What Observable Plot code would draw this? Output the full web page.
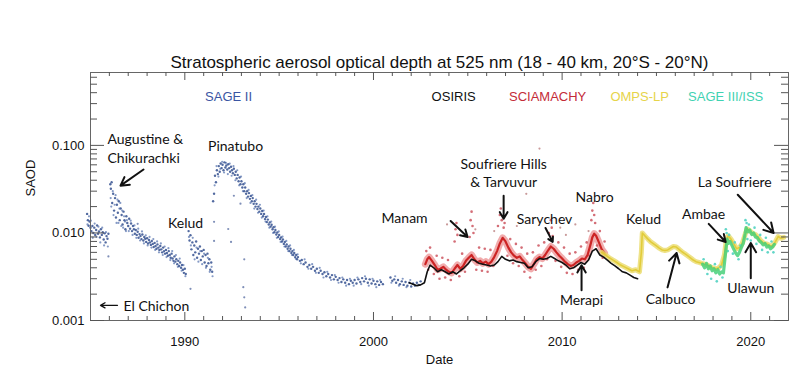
<!DOCTYPE html>
<html><head><meta charset="utf-8">
<script src="https://cdn.jsdelivr.net/npm/d3@7"></script>
<script src="https://cdn.jsdelivr.net/npm/@observablehq/plot@0.6"></script>
<style>body{margin:0;background:#fff}</style>
</head><body><div id="chart"></div>
<script>
// ---- data: [decimal year, stratospheric AOD at 525 nm] ----
const sage2 = [
[1984.82,0.0165],[1984.86,0.0140],[1984.90,0.0121],[1984.95,0.0135],[1985.00,0.0115],[1985.05,0.0105],[1985.10,0.0120],[1985.15,0.0100],[1985.20,0.0115],[1985.25,0.0095],[1985.30,0.0108],[1985.35,0.0122],[1985.40,0.0098],[1985.45,0.0104],[1985.50,0.0089],[1985.55,0.0110],[1985.60,0.0095],[1985.65,0.0102],[1985.70,0.0084],[1985.75,0.0099],[1985.80,0.0078],[1985.85,0.0092],[1985.90,0.0086],[1985.95,0.0098],
[1986.05,0.036],[1986.08,0.032],[1986.12,0.038],[1986.15,0.022],[1986.20,0.028],[1986.25,0.018],[1986.30,0.025],[1986.35,0.015],[1986.40,0.021],[1986.45,0.017],[1986.50,0.023],[1986.55,0.014],[1986.60,0.019],[1986.65,0.016],[1986.70,0.0125],[1986.75,0.0175],[1986.80,0.014],[1986.85,0.011],[1986.90,0.0155],[1986.95,0.013],[1987.00,0.012],[1987.05,0.0145],[1987.10,0.0112],[1987.15,0.0128],[1987.20,0.0105],[1987.25,0.012],[1987.30,0.011],[1987.35,0.0098],[1987.40,0.0108],[1987.45,0.0095],[1987.50,0.0103],[1987.55,0.0088],[1987.60,0.0097],[1987.65,0.0092],[1987.70,0.0085],[1987.75,0.0096],[1987.80,0.0082],[1987.85,0.0090],[1987.90,0.0086],[1987.95,0.0079],[1988.00,0.0087],[1988.05,0.0076],[1988.10,0.0083],[1988.15,0.0078],[1988.20,0.0073],[1988.25,0.0081],[1988.30,0.0075],[1988.35,0.0069],[1988.40,0.0077],[1988.45,0.0071],[1988.50,0.0066],[1988.55,0.0074],[1988.60,0.0068],[1988.65,0.0064],[1988.70,0.0071],[1988.75,0.0065],[1988.80,0.0060],[1988.85,0.0068],[1988.90,0.0062],[1988.95,0.0058],[1989.00,0.0064],[1989.05,0.0059],[1989.10,0.0055],[1989.15,0.0062],[1989.20,0.0056],[1989.25,0.0052],[1989.30,0.0058],[1989.35,0.0051],[1989.40,0.0048],[1989.45,0.0054],[1989.50,0.0047],[1989.55,0.0050],[1989.60,0.0044],[1989.65,0.0048],[1989.70,0.0042],[1989.75,0.0046],[1989.80,0.0040],[1989.85,0.0043],[1989.90,0.0038],[1989.95,0.0035],[1990.00,0.0039],[1990.05,0.0034],
[1990.20,0.0105],[1990.25,0.0082],[1990.30,0.0094],[1990.35,0.0065],[1990.40,0.0078],[1990.45,0.0056],[1990.50,0.0072],[1990.55,0.0060],[1990.60,0.0080],[1990.65,0.0052],[1990.70,0.0066],[1990.75,0.0058],[1990.80,0.0070],[1990.85,0.0049],[1990.90,0.0062],[1990.95,0.0054],[1991.00,0.0064],[1991.05,0.0046],[1991.10,0.0056],[1991.15,0.0042],[1991.20,0.0058],[1991.25,0.0045],[1991.30,0.0050],[1991.35,0.0038],[1991.40,0.0046],[1991.45,0.0036],
[1991.50,0.023],[1991.55,0.028],[1991.60,0.045],[1991.65,0.038],[1991.70,0.052],[1991.75,0.047],[1991.80,0.058],[1991.85,0.050],[1991.90,0.062],[1991.95,0.055],[1992.00,0.060],[1992.05,0.052],[1992.10,0.064],[1992.15,0.056],[1992.20,0.059],[1992.25,0.053],[1992.30,0.061],[1992.35,0.055],[1992.40,0.050],[1992.45,0.057],[1992.50,0.052],[1992.55,0.048],[1992.60,0.054],[1992.65,0.046],[1992.70,0.050],[1992.75,0.042],[1992.80,0.046],[1992.85,0.039],[1992.90,0.043],[1992.95,0.036],[1993.00,0.039],[1993.05,0.033],[1993.10,0.036],[1993.15,0.030],[1993.20,0.033],[1993.25,0.028],[1993.30,0.030],[1993.35,0.026],[1993.40,0.0285],[1993.45,0.0245],[1993.50,0.0265],[1993.55,0.023],[1993.60,0.025],[1993.65,0.0215],[1993.70,0.023],[1993.75,0.020],[1993.80,0.0215],[1993.85,0.0188],[1993.90,0.020],[1993.95,0.0175],[1994.00,0.019],[1994.05,0.0165],[1994.10,0.0178],[1994.15,0.0155],[1994.20,0.0165],[1994.25,0.0144],[1994.30,0.0152],[1994.35,0.0133],[1994.40,0.0142],[1994.45,0.0125],[1994.50,0.0132],[1994.55,0.0118],[1994.60,0.0124],[1994.65,0.0110],[1994.70,0.0116],[1994.75,0.0102],[1994.80,0.0108],[1994.85,0.0096],[1994.90,0.0101],[1994.95,0.0090],[1995.00,0.0095],[1995.05,0.0085],[1995.10,0.0089],[1995.15,0.0080],[1995.20,0.0084],[1995.25,0.0075],[1995.30,0.0079],[1995.35,0.0070],[1995.40,0.0074],[1995.45,0.0066],[1995.50,0.0070],[1995.55,0.0062],[1995.60,0.0066],[1995.65,0.0059],[1995.70,0.0062],[1995.75,0.0056],[1995.80,0.0059],[1995.85,0.0053],[1995.90,0.0056],[1995.95,0.0050],[1996.00,0.0053],[1996.10,0.0048],[1996.20,0.0049],[1996.30,0.0044],[1996.40,0.0046],[1996.50,0.0041],[1996.60,0.0043],[1996.70,0.0039],[1996.80,0.0041],[1996.90,0.0037],[1997.00,0.0039],[1997.10,0.0035],[1997.20,0.0037],[1997.30,0.0034],[1997.40,0.00355],[1997.50,0.0032],[1997.60,0.0034],[1997.70,0.0031],[1997.80,0.0033],[1997.90,0.00295],[1998.00,0.00315],[1998.10,0.0029],[1998.20,0.00305],[1998.30,0.00275],[1998.40,0.00295],[1998.50,0.0027],[1998.60,0.0029],[1998.70,0.0026],[1998.80,0.00285],[1998.90,0.0027],[1999.00,0.0029],[1999.10,0.00265],[1999.20,0.00295],[1999.30,0.00275],[1999.40,0.00305],[1999.50,0.0028],[1999.60,0.0030],[1999.70,0.0027],[1999.80,0.00295],[1999.90,0.00265],[2000.00,0.00285],[2000.10,0.0026],[2000.20,0.0028],[2000.30,0.00255],[2000.40,0.00275],[2000.50,0.0026],
[2000.90,0.0031],[2001.00,0.00285],[2001.10,0.00295],[2001.20,0.0027],[2001.30,0.0029],[2001.40,0.0026],[2001.50,0.0028],[2001.60,0.00255],[2001.70,0.00275],[2001.80,0.0025],[2001.90,0.0027],[2002.00,0.00245],[2002.10,0.00265],[2002.20,0.0025],[2002.30,0.0027],[2002.40,0.00255],[2002.50,0.0028]
];
const sage2Spread = [
[1984.84,0.0125],[1984.92,0.0155],[1985.02,0.0138],[1985.12,0.0088],[1985.22,0.0128],[1985.32,0.0090],[1985.42,0.0118],[1985.52,0.0078],[1985.62,0.0115],[1985.72,0.0072],[1985.82,0.0102],[1985.92,0.0070],
[1986.07,0.025],[1986.10,0.020],[1986.18,0.030],[1986.22,0.016],[1986.28,0.021],[1986.33,0.027],[1986.38,0.013],[1986.43,0.024],[1986.48,0.013],[1986.53,0.019],[1986.58,0.022],[1986.63,0.012],[1986.68,0.018],[1986.73,0.0115],[1986.78,0.0155],[1986.83,0.0135],[1986.88,0.0105],[1986.93,0.014],[1987.03,0.0105],[1987.13,0.0138],[1987.23,0.0095],[1987.33,0.0122],[1987.43,0.0088],[1987.53,0.0112],[1987.63,0.0082],[1987.73,0.0104],[1987.83,0.0076],[1987.93,0.0094],[1988.03,0.0072],[1988.13,0.0090],[1988.23,0.0068],[1988.33,0.0085],[1988.43,0.0064],[1988.53,0.0080],[1988.63,0.0060],[1988.73,0.0076],[1988.83,0.0056],[1988.93,0.0070],[1989.03,0.0053],[1989.13,0.0067],[1989.23,0.0049],[1989.33,0.0062],[1989.43,0.0045],[1989.53,0.0056],[1989.63,0.0041],[1989.73,0.0051],[1989.83,0.0037],[1989.93,0.0043],[1990.03,0.0032],
[1990.22,0.0090],[1990.32,0.0072],[1990.42,0.0088],[1990.52,0.0050],[1990.62,0.0068],[1990.72,0.0047],[1990.82,0.0062],[1990.92,0.0044],[1991.02,0.0058],[1991.12,0.0040],[1991.22,0.0052],[1991.32,0.0036],[1991.42,0.0041],[1991.47,0.0032],
[1991.58,0.035],[1991.68,0.058],[1991.78,0.044],[1991.88,0.054],[1991.98,0.065],[1992.08,0.049],[1992.18,0.063],[1992.28,0.047],[1992.38,0.062],[1992.48,0.045],[1992.58,0.058],[1992.68,0.040],[1992.78,0.052],[1992.88,0.035],[1992.98,0.044],[1993.08,0.030],[1993.18,0.037],[1993.28,0.025],[1993.38,0.031],[1993.48,0.022],[1993.58,0.027],[1993.68,0.019],[1993.78,0.024],[1993.88,0.017],[1993.98,0.021],[1994.08,0.0150],[1994.18,0.0180],[1994.28,0.0135],[1994.38,0.0155],[1994.48,0.0115],[1994.58,0.0135],[1994.68,0.0100],[1994.78,0.0118],[1994.88,0.0088],[1994.98,0.0104],[1995.08,0.0079],[1995.18,0.0091],[1995.28,0.0070],[1995.38,0.0081],[1995.48,0.0062],[1995.58,0.0072],[1995.68,0.0056],[1995.78,0.0064],[1995.88,0.0051],[1995.98,0.0057],[1996.15,0.0045],[1996.35,0.0050],[1996.55,0.0039],[1996.75,0.0044],[1996.95,0.0035],[1997.15,0.0040],[1997.35,0.0031],[1997.55,0.0036],[1997.75,0.0029],[1997.95,0.0033],[1998.15,0.0027],[1998.35,0.0031],[1998.55,0.0025],[1998.75,0.0030],[1998.95,0.0025],[1999.15,0.0031],[1999.35,0.0026],[1999.55,0.0032],[1999.75,0.0025],[1999.95,0.0030],[2000.15,0.0024],[2000.35,0.0029],[2000.95,0.0027],[2001.15,0.0032],[2001.35,0.0025],[2001.55,0.0030],[2001.75,0.0024],[2001.95,0.0029]
];
const sage2Sparse = [
[1985.95,0.0054],[1987.50,0.0127],[1990.30,0.0023],[1991.55,0.0134],[1991.55,0.0081],[1992.30,0.0111],[1992.45,0.0079],[1992.60,0.0266],[1992.95,0.0216],[1993.15,0.0050],[1993.10,0.0024],[1993.15,0.00184],[1993.20,0.00141]
];
const osiris = [
[2001.9,0.0027],[2002.1,0.0026],[2002.3,0.0025],[2002.5,0.00255],[2002.7,0.0027],[2002.85,0.0036],[2003.0,0.0043],[2003.2,0.0040],[2003.4,0.0036],[2003.6,0.0038],[2003.8,0.0036],[2004.0,0.0034],[2004.2,0.0036],[2004.4,0.0034],[2004.6,0.0037],[2004.8,0.0040],[2005.0,0.0044],[2005.2,0.0050],[2005.4,0.0048],[2005.6,0.0045],[2005.8,0.0044],[2006.0,0.0043],[2006.2,0.0042],[2006.4,0.0043],[2006.6,0.0047],[2006.8,0.0054],[2007.0,0.0050],[2007.2,0.0048],[2007.4,0.0049],[2007.6,0.0047],[2007.8,0.0046],[2008.0,0.0045],[2008.2,0.0040],[2008.4,0.0041],[2008.6,0.0047],[2008.8,0.0051],[2009.0,0.0050],[2009.2,0.0051],[2009.4,0.0054],[2009.6,0.0051],[2009.8,0.0048],[2010.0,0.0046],[2010.2,0.0043],[2010.4,0.0039],[2010.6,0.0040],[2010.8,0.0043],[2011.0,0.0046],[2011.2,0.0044],[2011.4,0.0049],[2011.6,0.0062],[2011.8,0.0066],[2012.0,0.0056],[2012.2,0.0053],[2012.4,0.0049],[2012.6,0.0045],[2012.8,0.0042],[2013.0,0.0039],[2013.2,0.0036],[2013.4,0.0035],[2013.6,0.0033],[2013.8,0.0031],[2014.0,0.0030]
];
const sciamachy = [
[2002.75,0.0044],[2002.85,0.0050],[2002.95,0.0053],[2003.1,0.0048],[2003.25,0.0043],[2003.4,0.0038],[2003.55,0.0039],[2003.7,0.0041],[2003.85,0.0038],[2004.0,0.0036],[2004.15,0.0035],[2004.3,0.0039],[2004.45,0.0043],[2004.6,0.0039],[2004.75,0.0042],[2004.9,0.0048],[2005.05,0.0052],[2005.2,0.0056],[2005.35,0.0050],[2005.5,0.0046],[2005.65,0.0048],[2005.8,0.0045],[2005.95,0.0047],[2006.1,0.0044],[2006.25,0.0047],[2006.4,0.0053],[2006.55,0.0062],[2006.7,0.0076],[2006.85,0.0088],[2007.0,0.0080],[2007.15,0.0068],[2007.3,0.0060],[2007.45,0.0055],[2007.6,0.0052],[2007.75,0.0054],[2007.9,0.0049],[2008.05,0.0045],[2008.2,0.0041],[2008.35,0.0039],[2008.5,0.0044],[2008.65,0.0050],[2008.8,0.0053],[2008.95,0.0051],[2009.1,0.0056],[2009.25,0.0063],[2009.4,0.0070],[2009.55,0.0066],[2009.7,0.0060],[2009.85,0.0055],[2010.0,0.0051],[2010.15,0.0047],[2010.3,0.0044],[2010.45,0.0042],[2010.6,0.0043],[2010.75,0.0046],[2010.9,0.0048],[2011.05,0.0051],[2011.2,0.0050],[2011.35,0.0056],[2011.5,0.0073],[2011.6,0.0089],[2011.7,0.0098],[2011.8,0.0093],[2011.95,0.0078],[2012.1,0.0065],[2012.25,0.0059]
];
const sciamachyScatter = [
[2002.8,0.0062],[2002.9,0.0038],[2003.0,0.0068],[2003.2,0.0034],[2003.35,0.0055],[2003.5,0.0030],[2003.65,0.0052],[2003.8,0.0031],[2003.95,0.0049],[2004.1,0.0029],[2004.3,0.0080],[2004.35,0.0110],[2004.4,0.0130],[2004.45,0.0095],[2004.55,0.0032],[2004.7,0.0058],[2004.85,0.0036],[2005.1,0.0090],[2005.15,0.0140],[2005.2,0.0175],[2005.25,0.0120],[2005.3,0.0100],[2005.45,0.0038],[2005.6,0.0068],[2005.75,0.0037],[2005.9,0.0066],[2006.05,0.0036],[2006.2,0.0064],[2006.35,0.0042],[2006.6,0.0120],[2006.7,0.0160],[2006.75,0.0190],[2006.8,0.0140],[2006.9,0.0115],[2006.95,0.0130],[2007.1,0.0055],[2007.25,0.0085],[2007.4,0.0045],[2007.55,0.0075],[2007.7,0.0042],[2007.85,0.0068],[2008.0,0.0036],[2008.15,0.0058],[2008.3,0.0031],[2008.45,0.0060],[2008.6,0.0038],[2008.75,0.0072],[2008.9,0.0042],[2009.05,0.0078],[2009.2,0.0050],[2009.3,0.0100],[2009.4,0.0140],[2009.45,0.0115],[2009.5,0.0092],[2009.65,0.0048],[2009.8,0.0078],[2009.95,0.0041],[2010.1,0.0068],[2010.25,0.0035],[2010.4,0.0058],[2010.55,0.0034],[2010.7,0.0060],[2010.85,0.0038],[2011.0,0.0070],[2011.15,0.0040],[2011.3,0.0078],[2011.45,0.0055],[2011.55,0.0140],[2011.6,0.0180],[2011.65,0.0220],[2011.7,0.0160],[2011.75,0.0130],[2011.85,0.0072],[2012.0,0.0105],[2012.15,0.0052],[2012.25,0.0080]
];
const sciamachyOutliers = [
[2003.9,0.0125],[2005.4,0.0110],[2006.4,0.0105],[2007.6,0.0120],[2008.1,0.0280],[2008.8,0.0920],[2009.9,0.0115],[2010.7,0.0125],[2011.4,0.0105],[2004.9,0.0095],[2010.2,0.0095]
];
const ompsLP = [
[2012.1,0.0060],[2012.3,0.0056],[2012.5,0.0052],[2012.7,0.0049],[2012.9,0.0046],[2013.1,0.0043],[2013.3,0.0041],[2013.5,0.0039],[2013.7,0.0037],[2013.9,0.0038],[2014.1,0.0036],[2014.2,0.0060],[2014.25,0.0100],[2014.4,0.0092],[2014.55,0.0085],[2014.7,0.0079],[2014.85,0.0075],[2015.0,0.0071],[2015.15,0.0067],[2015.3,0.0064],[2015.45,0.0063],[2015.6,0.0064],[2015.75,0.0067],[2015.9,0.0070],[2016.05,0.0069],[2016.2,0.0065],[2016.35,0.0061],[2016.5,0.0058],[2016.65,0.0055],[2016.8,0.0052],[2016.95,0.0049],[2017.1,0.0047],[2017.25,0.0046],[2017.4,0.0045],[2017.55,0.0044],[2017.7,0.0043],[2017.85,0.0041],[2018.0,0.0040],[2018.15,0.0039],[2018.3,0.0040],[2018.45,0.0043],[2018.6,0.0056],[2018.7,0.0081],[2018.8,0.0093],[2018.95,0.0085],[2019.1,0.0075],[2019.25,0.0066],[2019.4,0.0068],[2019.55,0.0076],[2019.7,0.0096],[2019.8,0.0111],[2019.95,0.0106],[2020.1,0.0099],[2020.25,0.0096],[2020.4,0.0089],[2020.55,0.0081],[2020.7,0.0076],[2020.85,0.0075],[2021.0,0.0072],[2021.15,0.0071],[2021.3,0.0079],[2021.45,0.0091],[2021.6,0.0087],[2021.75,0.0089]
];
const sage3iss = [
[2017.45,0.0044],[2017.55,0.0040],[2017.65,0.0045],[2017.75,0.0039],[2017.85,0.0042],[2017.95,0.0037],[2018.05,0.0039],[2018.15,0.0035],[2018.25,0.0038],[2018.35,0.0034],[2018.45,0.0036],[2018.55,0.0035],[2018.62,0.0048],[2018.7,0.0070],[2018.75,0.0085],[2018.82,0.0076],[2018.9,0.0080],[2019.0,0.0072],[2019.1,0.0065],[2019.2,0.0059],[2019.3,0.0055],[2019.4,0.0060],[2019.5,0.0068],[2019.6,0.0076],[2019.7,0.0098],[2019.75,0.0115],[2019.85,0.0103],[2019.95,0.0108],[2020.05,0.0096],[2020.15,0.0100],[2020.25,0.0090],[2020.35,0.0088],[2020.45,0.0081],[2020.55,0.0078],[2020.65,0.0073],[2020.75,0.0076],[2020.85,0.0069],[2020.95,0.0071],[2021.05,0.0066],[2021.15,0.0069],[2021.25,0.0074]
];
const sage3Scatter = [
[2017.5,0.0050],[2017.7,0.0034],[2017.9,0.0030],[2018.1,0.0044],[2018.2,0.0028],[2018.4,0.0041],[2018.5,0.0031],[2018.68,0.0110],[2018.72,0.0100],[2018.78,0.0062],[2018.85,0.0095],[2019.05,0.0058],[2019.15,0.0078],[2019.35,0.0050],[2019.45,0.0072],[2019.72,0.0140],[2019.78,0.0130],[2019.82,0.0085],[2019.9,0.0125],[2020.0,0.0082],[2020.2,0.0115],[2020.3,0.0075],[2020.5,0.0095],[2020.6,0.0064],[2020.8,0.0088],[2020.9,0.0060],[2021.1,0.0080],[2021.2,0.0060]
];
const seriesNames = ["SAGE II","OSIRIS","SCIAMACHY","OMPS-LP","SAGE III/ISS"];
const seriesColors = ["#3a55a3","#111111","#c42b38","#e6d44a","#3fd2b2"];
const legendYears = [1992.32,2004.25,2009.23,2014.11,2018.67];

const yMajor = [0.001,0.01,0.1];
const yMinor = [0.002,0.003,0.004,0.005,0.006,0.007,0.008,0.009,0.02,0.03,0.04,0.05,0.06,0.07,0.08,0.09,0.2,0.3,0.4,0.5,0.6];
const xMajor = [1990,2000,2010,2020];
const xMinor = [1986,1987,1988,1989,1991,1992,1993,1994,1995,1996,1997,1998,1999,2001,2002,2003,2004,2005,2006,2007,2008,2009,2011,2012,2013,2014,2015,2016,2017,2018,2019,2021];

// volcano annotations: text, year, value
const labelsLeft = [
  ["Augustine &\nChikurachki",1985.9,0.094],
  ["El Chichon",1986.75,0.00149]
];
const labelsCentered = [
  ["Pinatubo",1992.69,0.100],
  ["Kelud",1990.04,0.0134],
  ["Manam",2001.65,0.0153],
  ["Soufriere Hills\n& Tarvuvur",2006.9,0.049],
  ["Sarychev",2009.07,0.0149],
  ["Nabro",2011.72,0.0266],
  ["Merapi",2011.03,0.00174],
  ["Kelud",2014.32,0.0149],
  ["Calbuco",2015.75,0.00179],
  ["Ambae",2017.5,0.0170],
  ["Ulawun",2020.0,0.0024],
  ["La Soufriere",2019.15,0.0386]
];
// arrows: year1, value1, year2, value2
const volcanoArrows = [
  [1987.81,0.053,1986.59,0.0347],
  [2004.09,0.0137,2004.99,0.0090],
  [2006.9,0.0266,2006.9,0.0145],
  [2009.12,0.0114,2009.5,0.0079],
  [2011.03,0.00221,2011.03,0.00429],
  [2015.59,0.00239,2016.07,0.00589],
  [2017.77,0.0127,2018.67,0.00788],
  [2020.0,0.00304,2020.0,0.00769],
  [2019.31,0.0273,2021.21,0.0100]
];
const chichonArrow = [[1986.43,0.00149,1985.53,0.00149]];

const titleText = "Stratospheric aerosol optical depth at 525 nm (18 - 40 km, 20°S - 20°N)";

// ---- build ----
const W = 800, H = 384, mL = 90, mR = 12, mT = 72, mB = 64;
const pw = W - mL - mR, ph = H - mT - mB;
const P = a => a.map(([year, value]) => ({year, value}));
const L = a => a.map(([text, year, value]) => ({text, year, value}));
const A = a => a.map(([x1, y1, x2, y2]) => ({x1, y1, x2, y2}));
const legend = seriesNames.map((name, i) => ({name, color: seriesColors[i], year: legendYears[i]}));
const annoFont = "Lato, 'Open Sans', sans-serif";
const tickColor = "#555";

const chart = Plot.plot({
  width: W, height: H,
  marginLeft: mL, marginRight: mR, marginTop: mT, marginBottom: mB,
  style: {background: "#fff", fontFamily: "'Liberation Sans', Arial, sans-serif", fontSize: "13px", color: "#111"},
  x: {domain: [1985, 2022], axis: null},
  y: {type: "log", domain: [0.001, 0.68], axis: null},
  marks: [
    // SAGE II
    Plot.dot(P(sage2Sparse), {x: "year", y: "value", r: 1.1, fill: "#7f8fb8", stroke: null}),
    Plot.dot(P(sage2Spread), {x: "year", y: "value", r: 1.1, fill: "#7088bb", fillOpacity: 0.85, stroke: null}),
    Plot.dot(P(sage2), {x: "year", y: "value", r: 1.2, fill: "#34508f", fillOpacity: 0.85, stroke: null}),
    // SCIAMACHY
    Plot.dot(P(sciamachyOutliers), {x: "year", y: "value", r: 1.1, fill: "#c99a9a", stroke: null}),
    Plot.line(P(sciamachy), {x: "year", y: "value", stroke: "#e0464a", strokeWidth: 7, strokeOpacity: 0.45}),
    Plot.dot(P(sciamachyScatter), {x: "year", y: "value", r: 1.3, fill: "#c94a55", fillOpacity: 0.8, stroke: null}),
    Plot.line(P(sciamachy), {x: "year", y: "value", stroke: "#cc2424", strokeWidth: 2.2}),
    // OMPS-LP
    Plot.line(P(ompsLP), {x: "year", y: "value", stroke: "#eadb6a", strokeWidth: 5, strokeOpacity: 0.8}),
    Plot.line(P(ompsLP), {x: "year", y: "value", stroke: "#e2cc3a", strokeWidth: 1.6}),
    // SAGE III/ISS
    Plot.dot(P(sage3Scatter), {x: "year", y: "value", r: 1.3, fill: "#62d6c8", stroke: null}),
    Plot.line(P(sage3iss), {x: "year", y: "value", stroke: "#48d07a", strokeWidth: 3.2, strokeOpacity: 0.85}),
    // OSIRIS
    Plot.line(P(osiris), {x: "year", y: "value", stroke: "#111", strokeWidth: 1.6}),
    // frame and ticks
    Plot.frame({stroke: "#666"}),
    Plot.tickY(yMajor, {y: d => d, insetRight: pw - 14, stroke: tickColor}),
    Plot.tickY(yMinor, {y: d => d, insetRight: pw - 7, stroke: tickColor}),
    Plot.tickY(yMajor, {y: d => d, insetLeft: pw - 14, stroke: tickColor}),
    Plot.tickY(yMinor, {y: d => d, insetLeft: pw - 7, stroke: tickColor}),
    Plot.tickX(xMajor, {x: d => d, insetTop: ph - 8, stroke: tickColor}),
    Plot.tickX(xMinor, {x: d => d, insetTop: ph - 4, stroke: tickColor}),
    Plot.tickX(xMajor, {x: d => d, insetBottom: ph - 8, stroke: tickColor}),
    Plot.tickX(xMinor, {x: d => d, insetBottom: ph - 4, stroke: tickColor}),
    Plot.axisY(yMajor, {tickSize: 0, tickPadding: 6, tickFormat: d3.format(".3f"), fontSize: 13, label: null, fill: "#111"}),
    Plot.axisX(xMajor, {tickSize: 0, tickPadding: 16, tickFormat: d => String(d), fontSize: 13, label: null, fill: "#111"}),
    // axis titles and title
    Plot.text([titleText], {text: d => d, frameAnchor: "top", dy: -17, fontSize: 17, fill: "#111"}),
    Plot.text(["SAOD"], {text: d => d, frameAnchor: "left", dx: -60, rotate: -90, fontSize: 13}),
    Plot.text(["Date"], {text: d => d, frameAnchor: "bottom", dy: 43, fontSize: 13}),
    // legend
    Plot.text(legend, {x: "year", text: "name", fill: "color", frameAnchor: "top", dy: 19, fontSize: 13}),
    // annotations
    Plot.arrow(A(volcanoArrows), {x1: "x1", y1: "y1", x2: "x2", y2: "y2", stroke: "#111", strokeWidth: 2, headLength: 8}),
    Plot.arrow(A(chichonArrow), {x1: "x1", y1: "y1", x2: "x2", y2: "y2", stroke: "#111", strokeWidth: 1.3, headLength: 6}),
    Plot.text(L(labelsLeft), {x: "year", y: "value", text: "text", textAnchor: "start", fontSize: 14, fontFamily: annoFont, lineHeight: 1.3, fill: "#111"}),
    Plot.text(L(labelsCentered), {x: "year", y: "value", text: "text", textAnchor: "middle", fontSize: 14, fontFamily: annoFont, lineHeight: 1.3, fill: "#111"})
  ]
});
document.getElementById("chart").appendChild(chart);
</script></body></html>
